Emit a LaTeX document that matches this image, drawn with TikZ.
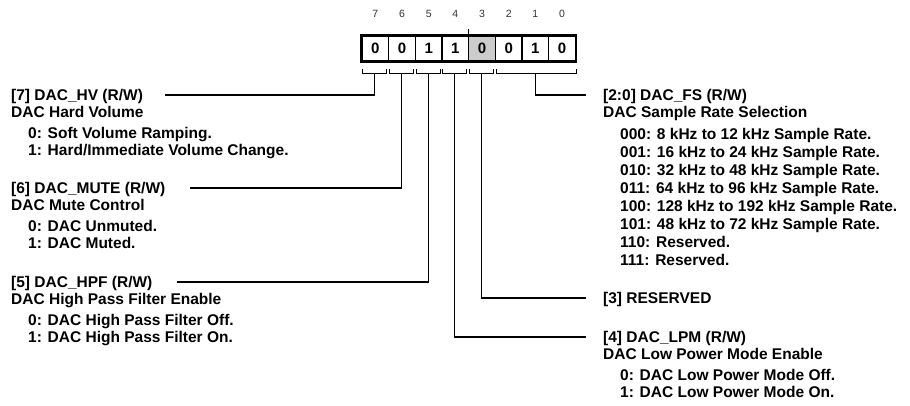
\documentclass[tikz,border=0pt]{standalone}
\usepackage{fontspec}
\setmainfont{Liberation Sans}
\begin{document}
\begin{tikzpicture}[x=1pt,y=-1pt,
  cell/.style={draw, line width=1.1pt, minimum width=26.67pt, minimum height=25pt, inner sep=0pt,
    font=\bfseries\fontsize{15}{15}\selectfont},
  bitnum/.style={inner sep=0pt, text=black!80, font=\fontsize{10.5}{10.5}\selectfont},
  txt/.style={anchor=west, inner sep=0pt, text height=11pt, text depth=0pt,
    font=\bfseries\fontsize{15.5}{18}\selectfont},
  brk/.style={line width=1pt},
  wire/.style={line width=1.2pt}]
\useasboundingbox (0,0) rectangle (910,405);
% register cells
\foreach \b/\v [count=\i from 0] in {7/0,6/0,5/1,4/1,3/0,2/0,1/1,0/0}{
  \pgfmathsetmacro{\cx}{362+(\i+0.5)*26.67}
  \ifnum\b=3
    \node[cell, fill=black!20] (c\b) at (\cx,48.5) {\v};
  \else
    \node[cell, fill=white] (c\b) at (\cx,48.5) {\v};
  \fi
  \node[bitnum] (n\b) at (\cx,14) {\b};
}
\draw[line width=2pt] (c7.north west) rectangle (c0.south east);
\draw[line width=1.1pt] (c3.north west) -- ++(0,-6);
% brackets
\foreach \b in {7,6,5,4,3}{
  \draw[brk] ([shift={(1.5pt,-7pt)}]c\b.south west) -- ++(0,4.5) -| ([shift={(-2.5pt,-7pt)}]c\b.south east);
  \coordinate (s\b) at ([shift={(-0.5pt,-11.5pt)}]c\b.south);
}
\draw[brk] ([shift={(2pt,-7pt)}]c2.south west) -- ++(0,4.5) -| ([shift={(0.5pt,-7pt)}]c0.south east);
\coordinate (s20) at ([yshift=-11.5pt]c1.south);
% left column
\node[txt] (t7) at (11,95) {[7] DAC\_HV (R/W)};
\node[txt] (d7) at (11,112) {DAC Hard Volume};
\node[txt] (v7a) at (28,133) {0: Soft Volume Ramping.};
\node[txt] (v7b) at (28,150) {1: Hard/Immediate Volume Change.};
\node[txt] (t6) at (11,188) {[6] DAC\_MUTE (R/W)};
\node[txt] (d6) at (11,205) {DAC Mute Control};
\node[txt] (v6a) at (28,226) {0: DAC Unmuted.};
\node[txt] (v6b) at (28,243) {1: DAC Muted.};
\node[txt] (t5) at (11,282) {[5] DAC\_HPF (R/W)};
\node[txt] (d5) at (11,299) {DAC High Pass Filter Enable};
\node[txt] (v5a) at (28,320) {0: DAC High Pass Filter Off.};
\node[txt] (v5b) at (28,337) {1: DAC High Pass Filter On.};
% right column
\node[txt] (t20) at (603,95) {[2:0] DAC\_FS (R/W)};
\node[txt] (d20) at (603,112) {DAC Sample Rate Selection};
\node[txt] (v20a) at (620,134) {000: 8 kHz to 12 kHz Sample Rate.};
\node[txt] (v20b) at (620,152) {001: 16 kHz to 24 kHz Sample Rate.};
\node[txt] (v20c) at (620,170) {010: 32 kHz to 48 kHz Sample Rate.};
\node[txt] (v20d) at (620,188) {011: 64 kHz to 96 kHz Sample Rate.};
\node[txt] (v20e) at (620,206) {100: 128 kHz to 192 kHz Sample Rate.};
\node[txt] (v20f) at (620,224) {101: 48 kHz to 72 kHz Sample Rate.};
\node[txt] (v20g) at (620,242) {110: Reserved.};
\node[txt] (v20h) at (620,260) {111: Reserved.};
\node[txt] (t3) at (603,298) {[3] RESERVED};
\node[txt] (t4) at (603,337) {[4] DAC\_LPM (R/W)};
\node[txt] (d4) at (603,354) {DAC Low Power Mode Enable};
\node[txt] (v4a) at (620,375) {0: DAC Low Power Mode Off.};
\node[txt] (v4b) at (620,392) {1: DAC Low Power Mode On.};
% connectors
\draw[wire] (s7) |- ([xshift=22pt]t7.east);
\draw[wire] (s6) |- ([xshift=24pt]t6.east);
\draw[wire] (s5) |- ([xshift=24pt]t5.east);
\draw[wire] (s20) |- ([xshift=-17pt]t20.west);
\draw[wire] (s3) |- ([xshift=-17pt]t3.west);
\draw[wire] (s4) |- ([xshift=-17pt]t4.west);
\end{tikzpicture}
\end{document}
